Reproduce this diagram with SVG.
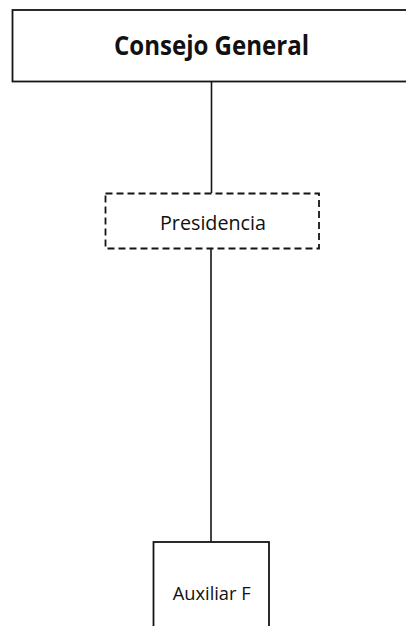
<svg xmlns="http://www.w3.org/2000/svg" width="406" height="626" viewBox="0 0 406 626">
<style>
.box{fill:#fff;stroke:#141414;stroke-width:1.8}
.dash{fill:#fff;stroke:#141414;stroke-width:1.8;stroke-dasharray:7 4}
.line{stroke:#141414;stroke-width:1.6;fill:none}
.t{font-family:"Open Sans","Liberation Sans",sans-serif;fill:#111;text-anchor:middle}
</style>
<rect width="406" height="626" fill="#fff"/>
<g id="connectors">
<line class="line" x1="211.5" y1="82" x2="211.5" y2="193"/>
<line class="line" x1="211" y1="249" x2="211" y2="542"/>
</g>
<g id="consejo-general">
<rect class="box" x="12.5" y="10" width="400" height="71.5"/>
<text class="t" x="211.5" y="55" font-size="26" font-weight="bold" textLength="195" lengthAdjust="spacingAndGlyphs">Consejo General</text>
</g>
<g id="presidencia">
<rect class="dash" x="105.5" y="193.5" width="213.5" height="55"/>
<text class="t" x="213" y="229.5" font-size="20" textLength="106" lengthAdjust="spacingAndGlyphs">Presidencia</text>
</g>
<g id="auxiliar-f">
<rect class="box" x="153.5" y="542" width="115.5" height="100"/>
<text class="t" x="211.7" y="599.5" font-size="18" textLength="78" lengthAdjust="spacingAndGlyphs">Auxiliar F</text>
</g>
</svg>
